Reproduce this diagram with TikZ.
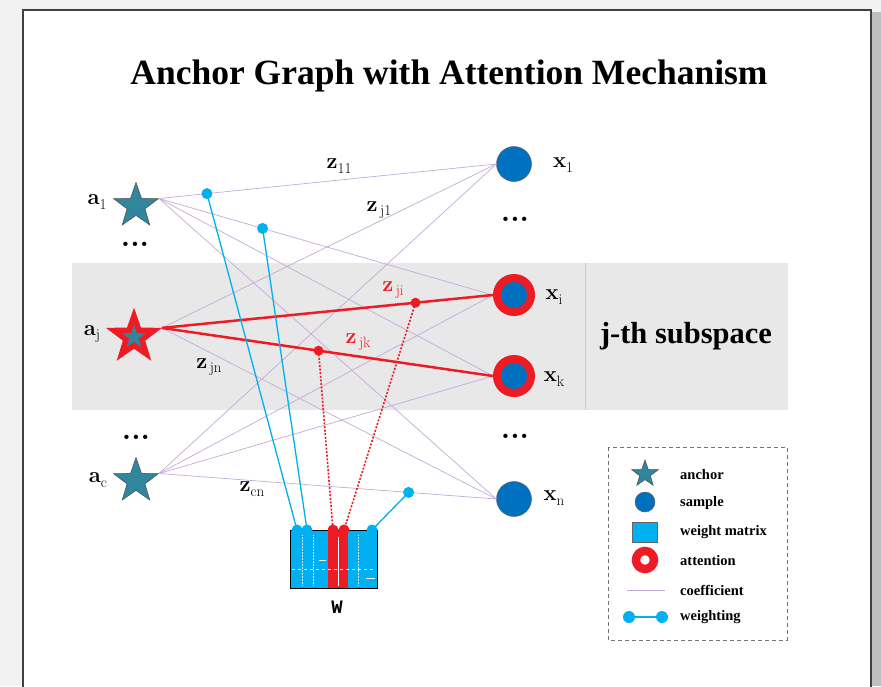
\documentclass[tikz,border=0pt]{standalone}
\usepackage{fontspec}
\newfontfamily\tnr{Liberation Serif}
\newfontfamily\monofam{Liberation Mono}
\usetikzlibrary{shapes.geometric}
\definecolor{anchorteal}{RGB}{49,133,156}
\definecolor{sampleblue}{RGB}{0,112,192}
\definecolor{wblue}{RGB}{0,176,240}
\definecolor{attnred}{RGB}{237,28,36}
\definecolor{coefpurple}{RGB}{196,170,216}
\definecolor{bandgray}{RGB}{232,232,232}
\newcommand\lbl[2]{{\fontsize{22}{24}\selectfont\bfseries #1}\raisebox{-4.5pt}{\fontsize{15}{16}\selectfont #2}}
\tikzset{
  anchorstar/.style={star, star points=5, star point ratio=2.5, fill=anchorteal, draw=black!70, line width=0.5pt, minimum size=47pt, inner sep=0pt},
  attnstar/.style={anchorstar, draw=attnred, line width=5.5pt, minimum size=42pt},
  sample/.style={circle, fill=sampleblue, draw=black!60, line width=0.5pt, minimum size=35pt, inner sep=0pt},
  attn/.style={circle, fill=sampleblue, draw=attnred, line width=8pt, minimum size=34pt, inner sep=0pt},
  coef/.style={coefpurple, line width=0.7pt},
  attnline/.style={attnred, line width=2.5pt},
  wline/.style={wblue, line width=1.3pt},
  attdot/.style={attnred, line width=1.6pt, dash pattern=on 2pt off 1.6pt},
  lab/.style={inner sep=0pt},
  dotsl/.style={font=\bfseries\fontsize{30}{30}\selectfont, inner sep=0pt},
  legtext/.style={font=\tnr\bfseries\fontsize{14.5}{16}\selectfont, anchor=west, inner sep=0pt},
}
\begin{document}
\begin{tikzpicture}[x=1pt,y=-1pt]
\useasboundingbox (0,0) rectangle (881,686);
% page frame and shadow
\fill[black!5] (0,0) rectangle (881,686);
\fill[black!25] (872,12) rectangle (881,686);
\fill[white] (23,10) rectangle (871,690);
\draw[black!75, line width=1.3pt] (23,690) -- (23,10) -- (871,10) -- (871,690);
% subspace band
\fill[bandgray] (72,263) rectangle (788,410);
\draw[black!20, line width=0.8pt] (585,263) -- (585,410);
% title and band label
\node[font=\tnr\bfseries\fontsize{35.5}{40}\selectfont] (title) at (449,76) {Anchor Graph with Attention Mechanism};
\node[font=\tnr\bfseries\fontsize{30.5}{34}\selectfont] (sub) at (686,336) {j-th subspace};
% anchors
\node[anchorstar] (a1) at (136,206) {};
\node[attnstar] (aj) at (134,337) {};
\node[anchorstar] (ac) at (136,481) {};
% samples
\node[sample] (x1) at (514,164) {};
\node[attn] (xi) at (514,295) {};
\node[attn] (xk) at (514,376) {};
\node[sample] (xn) at (514,499) {};
% labels
\node[lab] (la1) at (97,202) {\lbl{a}{1}};
\node[lab] (laj) at (92,334) {\lbl{a}{j}};
\node[lab] (lac) at (98,480) {\lbl{a}{c}};
\node[lab] (lx1) at (563,165) {\lbl{x}{1}};
\node[lab] (lxi) at (554,297) {\lbl{x}{i}};
\node[lab] (lxk) at (554,379) {\lbl{x}{k}};
\node[lab] (lxn) at (554,498) {\lbl{x}{n}};
\node[dotsl] (da1) at (135,244) {...};
\node[dotsl] (da2) at (136,437) {...};
\node[dotsl] (dx1) at (515,219) {...};
\node[dotsl] (dx2) at (515,436) {...};
% coefficient edges
\foreach \a in {a1,ac}{
  \foreach \x in {x1,xi,xk,xn}{
    \draw[coef] (\a.outer point 5) -- (\x.west);
  }
}
\draw[coef] (aj.outer point 5) -- (x1.west);
\draw[coef] (aj.outer point 5) -- (xn.west);
\draw[attnline] (aj.outer point 5) -- (xi.west);
\draw[attnline] (aj.outer point 5) -- (xk.west);
% points on edges
\path (a1.outer point 5) -- (x1.west) coordinate[pos=0.142] (w1);
\path (a1.outer point 5) -- (xi.west) coordinate[pos=0.31] (w2);
\path (ac.outer point 5) -- (xn.west) coordinate[pos=0.74] (w3);
\path (aj.outer point 5) -- (xi.west) coordinate[pos=0.766] (r1);
\path (aj.outer point 5) -- (xk.west) coordinate[pos=0.473] (r2);
% edge labels
\node[lab] (z11) at (339,166) {\lbl{z}{11}};
\node[lab] (zj1) at (379,210) {\lbl{z}{\,j1}};
\node[lab, text=attnred] (zji) at (393,290) {\lbl{z}{\,ji}};
\node[lab, text=attnred] (zjk) at (358,342) {\lbl{z}{\,jk}};
\node[lab] (zjn) at (209,367) {\lbl{z}{\,jn}};
\node[lab] (zcn) at (252,489) {\lbl{z}{cn}};
% weight matrix
\node[fill=wblue, minimum width=86pt, minimum height=57pt, inner sep=0pt] (W) at (334,559.5) {};
\fill[attnred] (328,531) rectangle (348,588);
\draw[white, line width=0.6pt, dashed] (292,569) -- (376,569);
\draw[white, line width=0.6pt] (338,537) -- (338,586);
\draw[white, line width=0.6pt] (319,560) -- (326,560);
\draw[white, line width=0.6pt] (366,578) -- (375,578);
\draw[white!80!wblue, line width=0.5pt, densely dotted] (302,535) -- (302,586) (313,535) -- (313,586) (358,535) -- (358,586);
\draw[black, line width=1.2pt] (W.north west) rectangle (W.south east);
\node[font=\monofam\bfseries\fontsize{19}{19}\selectfont] (Wl) at (337,607) {W};
\coordinate (t1) at (297,530);
\coordinate (t2) at (307,530);
\coordinate (t3) at (333,530);
\coordinate (t4) at (344,530);
\coordinate (t5) at (372,530);
% weighting lines
\draw[wline] (w1) -- (t1);
\draw[wline] (w2) -- (t2);
\draw[wline] (w3) -- (t5);
\draw[attdot] (r2) -- (t3);
\draw[attdot] (r1) -- (t4);
\foreach \p in {w1,w2,w3,t1,t2,t5}{\fill[wblue] (\p) circle (5.5);}
\foreach \p in {r1,r2}{\fill[attnred] (\p) circle (5);}
\foreach \p in {t3,t4}{\fill[attnred] (\p) circle (5.5);}
% legend
\draw[black!55, line width=0.8pt, dash pattern=on 4pt off 3pt] (608,447) rectangle (787,640);
\node[anchorstar, minimum size=28pt] (lgs) at (645,474) {};
\node[legtext] (lgst) at (680,475) {anchor};
\node[sample, minimum size=20pt] (lgc) at (645,502) {};
\node[legtext] (lgct) at (680,503) {sample};
\node[fill=wblue, draw=black!60, line width=0.5pt, minimum width=25pt, minimum height=20pt, inner sep=0pt] (lgw) at (645,532) {};
\node[legtext] (lgwt) at (680,532) {weight matrix};
\node[circle, draw=attnred, fill=white, line width=8.5pt, minimum size=18pt, inner sep=0pt] (lga) at (645,560) {};
\node[legtext] (lgat) at (680,561) {attention};
\coordinate (lgl1) at (627,590);
\coordinate (lgl2) at (665,590);
\draw[coef, line width=1pt] (lgl1) -- (lgl2);
\node[legtext] (lglt) at (680,590) {coefficient};
\coordinate (lgd1) at (629,617);
\coordinate (lgd2) at (662,617);
\draw[wline] (lgd1) -- (lgd2);
\fill[wblue] (lgd1) circle (6) (lgd2) circle (6);
\node[legtext] (lgdt) at (680,617) {weighting};
\end{tikzpicture}
\end{document}
